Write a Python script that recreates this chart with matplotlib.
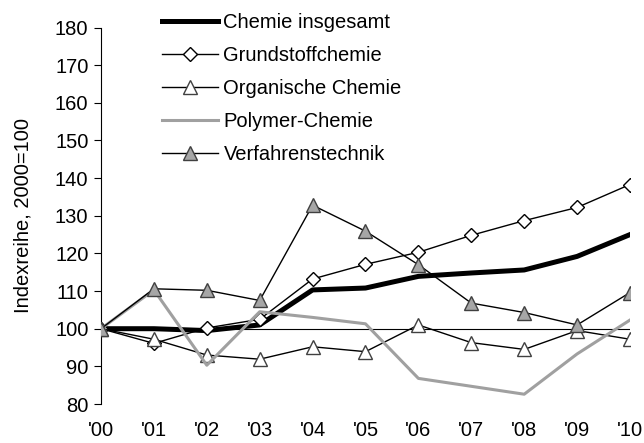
import numpy as np
import matplotlib
matplotlib.use('Agg')
import matplotlib.pyplot as plt

plt.rcParams['font.family'] = ['Liberation Sans', 'DejaVu Sans']

years = ["'00", "'01", "'02", "'03", "'04", "'05", "'06", "'07", "'08", "'09", "'10"]

chemie_gesamt = [100, 100, 99.5, 101, 110.3, 110.8, 113.9, 114.8, 115.6, 119.2, 125]
grundstoff = [100, 96.1, 100.2, 102.5, 113.2, 117.1, 120.3, 124.8, 128.7, 132.2, 138.3]
organisch = [100, 97.2, 93.0, 91.9, 95.2, 93.9, 101.0, 96.3, 94.5, 99.5, 97.2]
polymer = [100, 110.3, 90.3, 104.5, 103.0, 101.3, 86.8, 84.7, 82.6, 93.3, 102.3]
verfahren = [100, 110.6, 110.2, 107.5, 132.8, 125.9, 117.0, 106.8, 104.3, 101.0, 109.6]

x = np.arange(len(years))
fs = 14.5

fig = plt.figure(figsize=(6.44, 4.43), dpi=100)
ax = fig.add_axes([101 / 644, 1 - 404 / 443, 529 / 644, (404 - 27.5) / 443])

# reference line at 100
ax.plot([x[0], x[-1]], [100, 100], color='black', lw=0.8, zorder=1)

ax.plot(x, chemie_gesamt, color='black', lw=3.6, solid_joinstyle='round',
        label='Chemie insgesamt', zorder=2)
ax.plot(x, grundstoff, color='black', lw=1.0, marker='D', ms=7.5,
        mfc='white', mec='black', mew=1.0, label='Grundstoffchemie', zorder=3)
ax.plot(x, organisch, color='black', lw=1.0, marker='^', ms=9.5,
        mfc='white', mec='#404040', mew=1.0, label='Organische Chemie', zorder=3)
ax.plot(x, polymer, color='#a0a0a0', lw=2.2, label='Polymer-Chemie', zorder=4)
ax.plot(x, verfahren, color='black', lw=1.0, marker='^', ms=9.5,
        mfc='#a6a6a6', mec='#404040', mew=1.0, label='Verfahrenstechnik', zorder=5)

ax.set_xlim(0, 10)
ax.set_ylim(80, 180)
ax.set_yticks(np.arange(80, 181, 10))
ax.set_xticks(x)
ax.set_xticklabels(years)
ax.tick_params(axis='y', direction='out', length=5, width=0.8, labelsize=fs, pad=4)
ax.tick_params(axis='x', length=0, labelsize=fs, pad=12)
for s in ['top', 'right', 'bottom']:
    ax.spines[s].set_visible(False)
ax.spines['left'].set_linewidth(0.8)
ax.patch.set_alpha(0)

ax.set_ylabel('Indexreihe, 2000=100', fontsize=fs, labelpad=16)

fig.legend(loc='upper left', bbox_to_anchor=(162 / 644, 1 - 13 / 443),
           frameon=False, fontsize=fs, handlelength=2.8, handletextpad=0.25,
           labelspacing=0.7, borderpad=0, borderaxespad=0)

fig.savefig('out.png', dpi=100)
